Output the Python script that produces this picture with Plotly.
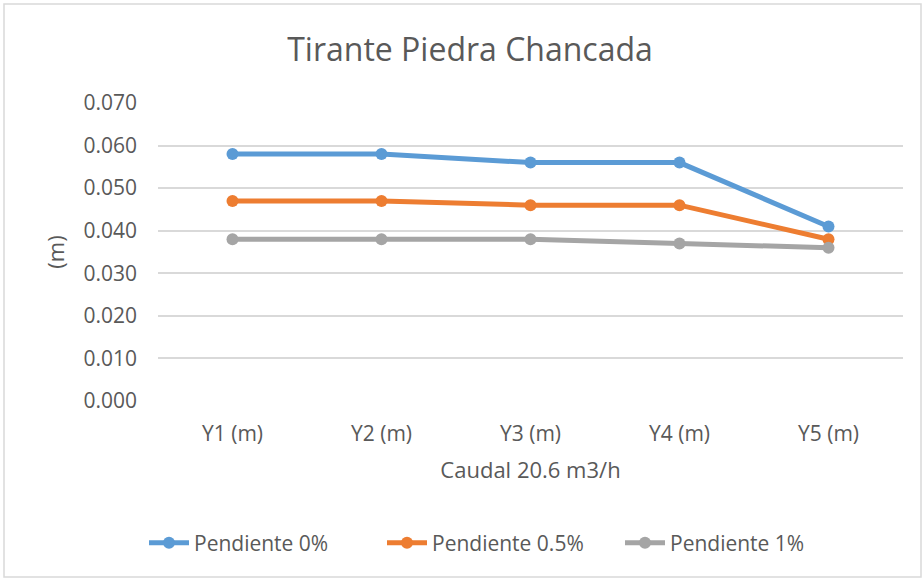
import plotly.graph_objects as go

categories = ["Y1 (m)", "Y2 (m)", "Y3 (m)", "Y4 (m)", "Y5 (m)"]
pend_0 = [0.058, 0.058, 0.056, 0.056, 0.041]
pend_05 = [0.047, 0.047, 0.046, 0.046, 0.038]
pend_1 = [0.038, 0.038, 0.038, 0.037, 0.036]
series_names = ["Pendiente 0%", "Pendiente 0.5%", "Pendiente 1%"]
colors = ["#5b9bd5", "#ed7d31", "#a5a5a5"]

W, H = 923, 579
L, R, T, B = 158, 20, 103, 178
pw, ph = W - L - R, H - T - B

def px(x):
    return (x - L) / pw

def py(y):
    return (H - B - y) / ph

fig = go.Figure()
for name, vals, c in zip(series_names, [pend_0, pend_05, pend_1], colors):
    fig.add_trace(go.Scatter(
        x=categories, y=vals, name=name, mode="lines+markers",
        line=dict(color=c, width=5),
        marker=dict(color=c, size=12),
    ))

font_fam = "Open Sans, Noto Sans, sans-serif"
fig.update_layout(
    width=W, height=H,
    margin=dict(l=L, r=R, t=T, b=B),
    paper_bgcolor="white", plot_bgcolor="white",
    font=dict(family=font_fam, color="#595959", size=20),
    title=dict(text="Tirante Piedra Chancada", xref="container", x=470 / W, xanchor="center",
               y=1 - 50 / H, yanchor="middle",
               font=dict(size=32, color="#595959")),
    xaxis=dict(showgrid=False, showline=False, ticks="", tickfont=dict(size=21),
               range=[-0.5, 4.5], ticklabelstandoff=18,
               title=dict(text="Caudal 20.6 m3/h", font=dict(size=22), standoff=16)),
    yaxis=dict(range=[0, 0.07], dtick=0.01, tickformat=".3f",
               gridcolor="#d9d9d9", gridwidth=1.5, zeroline=False,
               showline=False, ticks="", tickfont=dict(size=21),
               ticklabelstandoff=20,
               title=dict(text="(m)", font=dict(size=22), standoff=12)),
    legend=dict(orientation="h", x=px(144), xanchor="left", y=py(543), yanchor="middle",
                font=dict(size=21), itemwidth=40, tracegroupgap=0,
                entrywidthmode="pixels", entrywidth=183),
    showlegend=True,
)
fig.add_shape(type="rect", xref="paper", yref="paper",
              x0=px(4), x1=px(921), y0=py(577), y1=py(4),
              line=dict(color="#d9d9d9", width=1.5), fillcolor="rgba(0,0,0,0)", layer="below")

fig.write_html("out.html", config={"displayModeBar": False},
               post_script="document.body.style.margin='0';document.body.style.overflow='hidden';")
